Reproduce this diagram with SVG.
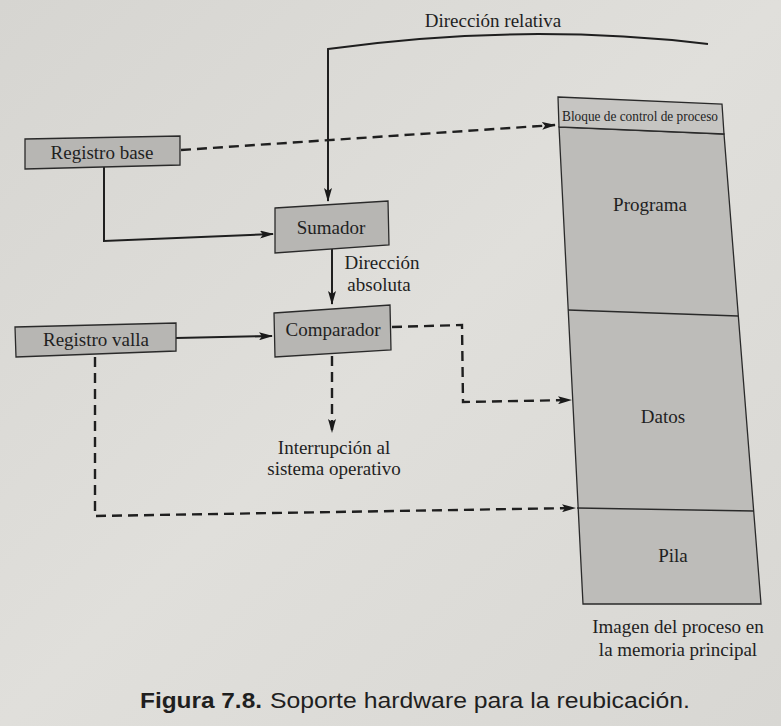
<svg xmlns="http://www.w3.org/2000/svg" width="781" height="726" viewBox="0 0 781 726">
<defs>
<marker id="ah" viewBox="0 0 14 8" refX="13" refY="4" markerWidth="14" markerHeight="8" markerUnits="userSpaceOnUse" orient="auto">
<path d="M0,0 L14,4 L0,8 L3,4 Z" fill="#1a1a1a"/>
</marker>
<linearGradient id="bg" x1="0" y1="0" x2="1" y2="1">
<stop offset="0" stop-color="#d6d5d1"/>
<stop offset="0.5" stop-color="#e0dfdb"/>
<stop offset="1" stop-color="#d8d7d3"/>
</linearGradient>
</defs>
<style>
.box{fill:#b7b6b3;stroke:#2a2a2a;stroke-width:1.3}
.mem{fill:#bdbcb9;stroke:#2a2a2a;stroke-width:1.3}
.pcb{fill:#c6c5c2;stroke:#2a2a2a;stroke-width:1.3}
.t{font-family:"Liberation Serif","Times New Roman",serif;font-size:19px;fill:#1f1f1f;text-anchor:middle}
.small{font-size:14px}
.solid{fill:none;stroke:#1f1f1f;stroke-width:2}
.dash{fill:none;stroke:#1f1f1f;stroke-width:2.4;stroke-dasharray:10,6}
.cap{font-family:"Liberation Sans",Arial,sans-serif;font-size:22px;fill:#1f1f1f}
</style>
<rect width="781" height="726" fill="url(#bg)"/>

<g id="connectors">
<path class="solid" d="M708,44 Q520,22 328,49 L328,201" marker-end="url(#ah)"/>
<path class="solid" d="M104,166 L104,241 L273,234" marker-end="url(#ah)"/>
<path class="solid" d="M332,248 L332,304" marker-end="url(#ah)"/>
<path class="solid" d="M176,338 L272,336" marker-end="url(#ah)"/>
<path class="dash" d="M181,150 L555,125" marker-end="url(#ah)"/>
<path class="dash" d="M392,327 L462,325 L463,402 L571,400" marker-end="url(#ah)"/>
<path class="dash" d="M332,356 L332,432" marker-end="url(#ah)"/>
<path class="dash" d="M95,357 L95,516 L575,508" marker-end="url(#ah)"/>
</g>

<g id="memoria">
<polygon class="mem" points="559,127 724,134 761,604 583,604"/>
<polygon class="pcb" points="558,97 722,104 724,134 559,127"/>
<line x1="568" y1="310" x2="738" y2="316" stroke="#2a2a2a" stroke-width="1.3"/>
<line x1="577" y1="508" x2="754" y2="511" stroke="#2a2a2a" stroke-width="1.3"/>
<text class="t small" x="640" y="121" textLength="156" lengthAdjust="spacingAndGlyphs">Bloque de control de proceso</text>
<text class="t" x="650" y="211">Programa</text>
<text class="t" x="663" y="423">Datos</text>
<text class="t" x="673" y="562">Pila</text>
<text class="t" x="678" y="633">Imagen del proceso en</text>
<text class="t" x="678" y="656">la memoria principal</text>
</g>

<g id="registro-base">
<polygon class="box" points="25,139 180,136 180,165 25,169"/>
<text class="t" x="102" y="159">Registro base</text>
</g>

<g id="sumador">
<polygon class="box" points="275,208 388,201 389,245 275,253"/>
<text class="t" x="331" y="234">Sumador</text>
</g>

<g id="comparador">
<polygon class="box" points="274,313 390,305 391,350 275,357"/>
<text class="t" x="333" y="336">Comparador</text>
</g>

<g id="registro-valla">
<polygon class="box" points="15,327 176,323 176,351 16,357"/>
<text class="t" x="96" y="346">Registro valla</text>
</g>

<g id="labels">
<text class="t" x="493" y="27">Dirección relativa</text>
<text class="t" x="382" y="269">Dirección</text>
<text class="t" x="379" y="291">absoluta</text>
<text class="t" x="334" y="454">Interrupción al</text>
<text class="t" x="334" y="475">sistema operativo</text>
</g>

<g id="caption">
<text class="cap" x="140" y="708" font-weight="bold" textLength="122" lengthAdjust="spacingAndGlyphs">Figura 7.8.</text>
<text class="cap" x="270" y="708" textLength="420" lengthAdjust="spacingAndGlyphs">Soporte hardware para la reubicación.</text>
</g>
</svg>
